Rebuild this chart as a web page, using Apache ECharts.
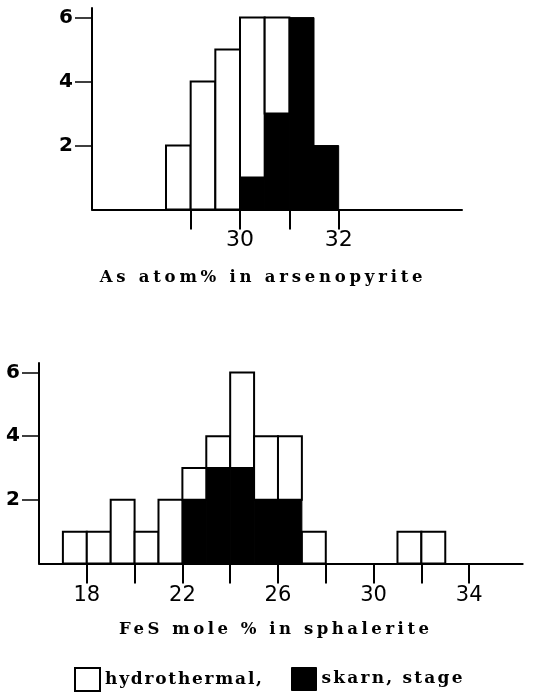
<!DOCTYPE html>
<html>
<head>
<meta charset="utf-8">
<script src="https://cdn.jsdelivr.net/npm/echarts@6/dist/echarts.min.js"></script>
<style>
html,body{margin:0;padding:0;background:#fff;}
#chart{width:545px;height:695px;}
</style>
</head>
<body>
<div id="chart"></div>
<script>
// ---------- data ----------
// Arsenopyrite: As atom% histogram (bin start, bin width 0.5)
const asBinStart = [28.5, 29, 29.5, 30, 30.5, 31, 31.5];
const asBinWidth = 0.5;
const asHydro    = [2, 4, 5, 5, 3, 0, 0];
const asSkarn    = [0, 0, 0, 1, 3, 6, 2];
const asTickValues  = [29, 30, 31, 32];
const asLabelValues = [30, 32];

// Sphalerite: FeS mole % histogram (bin start, bin width 1)
const fesBinStart = [17, 18, 19, 20, 21, 22, 23, 24, 25, 26, 27, 31, 32];
const fesBinWidth = 1;
const fesHydro    = [1, 1, 2, 1, 2, 1, 1, 3, 2, 2, 1, 1, 1];
const fesSkarn    = [0, 0, 0, 0, 0, 2, 3, 3, 2, 2, 0, 0, 0];
const fesTickValues  = [18, 20, 22, 24, 26, 28, 30, 32, 34];
const fesLabelValues = [18, 22, 26, 30, 34];

const countTicks = [2, 4, 6];

const asTitle  = 'As atom% in arsenopyrite';
const fesTitle = 'FeS mole % in sphalerite';
const hydroName = 'hydrothermal,';
const skarnName = 'skarn, stage';

// ---------- letter spacing for the typewriter-style captions ----------
// target printed widths (px) of the widely spaced captions
const TARGET_W = {};
TARGET_W[asTitle] = 323;
TARGET_W[fesTitle] = 310;
TARGET_W[hydroName] = 157;
TARGET_W[skarnName] = 141;
(function(){
  const proto = CanvasRenderingContext2D.prototype;
  const orig = proto.fillText;
  const has = 'letterSpacing' in proto;
  proto.fillText = function(t, x, y, mw){
    let s = '0px';
    if (has && TARGET_W[t]) {
      this.letterSpacing = '0px';
      const w0 = this.measureText(t).width;
      const n = t.length;
      s = Math.max(0, (TARGET_W[t] - w0) / (n - 1)).toFixed(2) + 'px';
    }
    if (has) this.letterSpacing = s;
    if (mw === undefined) orig.call(this, t, x, y); else orig.call(this, t, x, y, mw);
    if (has) this.letterSpacing = '0px';
  };
})();

// ---------- build stacked bin rectangles ----------
function skarnRects(starts, w, skarn){
  const out = [];
  starts.forEach((s, i) => { if (skarn[i] > 0) out.push([s, s + w, 0, skarn[i]]); });
  return out;
}
function hydroRects(starts, w, hydro, skarn){
  const out = [];
  starts.forEach((s, i) => { if (hydro[i] > 0) out.push([s, s + w, skarn[i], skarn[i] + hydro[i]]); });
  return out;
}

function renderBin(params, api){
  const p0 = api.coord([api.value(0), api.value(3)]);
  const p1 = api.coord([api.value(1), api.value(2)]);
  return {
    type: 'rect',
    shape: { x: p0[0], y: p0[1], width: p1[0] - p0[0], height: p1[1] - p0[1] },
    style: api.style()
  };
}

const AX = '#000';
const titleFont = { fontFamily: 'DejaVu Serif', fontWeight: 'bold', fontSize: 16.5, color: '#000' };

function xAxisCfg(grid, min, max, ticks, labels, name, gap, padRight, labelSize, labelMargin){
  return {
    gridIndex: grid, type: 'value', min: min, max: max,
    axisLine: { show: true, onZero: false, lineStyle: { color: AX, width: 2 } },
    axisTick: { show: true, length: 20, customValues: ticks, lineStyle: { color: AX, width: 2 } },
    axisLabel: { show: true, customValues: labels, margin: labelMargin, fontSize: labelSize,
                 fontFamily: 'DejaVu Sans', color: '#000' },
    splitLine: { show: false },
    name: name, nameLocation: 'middle', nameGap: gap,
    nameTextStyle: Object.assign({ verticalAlign: 'middle', padding: [0, padRight, 0, 0] }, titleFont)
  };
}
function yAxisCfg(grid){
  return {
    gridIndex: grid, type: 'value', min: 0, max: 6.3,
    axisLine: { show: true, onZero: false, lineStyle: { color: AX, width: 2 } },
    axisTick: { show: true, length: 17, customValues: countTicks, lineStyle: { color: AX, width: 1.5 } },
    axisLabel: { show: true, customValues: countTicks, margin: 19, fontSize: 20, fontWeight: 'bold',
                 fontFamily: 'DejaVu Sans', color: '#000' },
    splitLine: { show: false }
  };
}

const hydroStyle = { color: '#fff', borderColor: '#000', borderWidth: 2 };
const skarnStyle = { color: '#000', borderColor: '#000', borderWidth: 1 };
const legendFont = Object.assign({}, titleFont, { fontSize: 17 });

const chart = echarts.init(document.getElementById('chart'), null, { renderer: 'canvas' });
chart.setOption({
  animation: false,
  backgroundColor: '#fff',
  grid: [
    { left: 92, right: 83, top: 8, bottom: 485.5, outerBoundsMode: 'none', containLabel: false },
    { left: 39, right: 22.3, top: 363, bottom: 131.5, outerBoundsMode: 'none', containLabel: false }
  ],
  xAxis: [
    xAxisCfg(0, 27, 34.5, asTickValues, asLabelValues, asTitle, 68, 28, 22, 20),
    xAxisCfg(1, 16, 36.24, fesTickValues, fesLabelValues, fesTitle, 66, 10, 21, 22)
  ],
  yAxis: [ yAxisCfg(0), yAxisCfg(1) ],
  legend: [
    { left: 74, top: 667, padding: 0, itemWidth: 25, itemHeight: 23, selectedMode: false,
      data: [{ name: hydroName, icon: 'rect', itemStyle: hydroStyle }],
      textStyle: legendFont },
    { left: 291, top: 667, padding: 0, itemWidth: 25, itemHeight: 23, selectedMode: false,
      data: [{ name: skarnName, icon: 'rect', itemStyle: skarnStyle }],
      textStyle: legendFont }
  ],
  series: [
    { name: skarnName, type: 'custom', xAxisIndex: 0, yAxisIndex: 0, renderItem: renderBin,
      itemStyle: skarnStyle, encode: { x: [0, 1], y: [2, 3] },
      data: skarnRects(asBinStart, asBinWidth, asSkarn) },
    { name: hydroName, type: 'custom', xAxisIndex: 0, yAxisIndex: 0, renderItem: renderBin,
      itemStyle: hydroStyle, encode: { x: [0, 1], y: [2, 3] },
      data: hydroRects(asBinStart, asBinWidth, asHydro, asSkarn) },
    { name: skarnName, type: 'custom', xAxisIndex: 1, yAxisIndex: 1, renderItem: renderBin,
      itemStyle: skarnStyle, encode: { x: [0, 1], y: [2, 3] },
      data: skarnRects(fesBinStart, fesBinWidth, fesSkarn) },
    { name: hydroName, type: 'custom', xAxisIndex: 1, yAxisIndex: 1, renderItem: renderBin,
      itemStyle: hydroStyle, encode: { x: [0, 1], y: [2, 3] },
      data: hydroRects(fesBinStart, fesBinWidth, fesHydro, fesSkarn) }
  ]
});
</script>
</body>
</html>
